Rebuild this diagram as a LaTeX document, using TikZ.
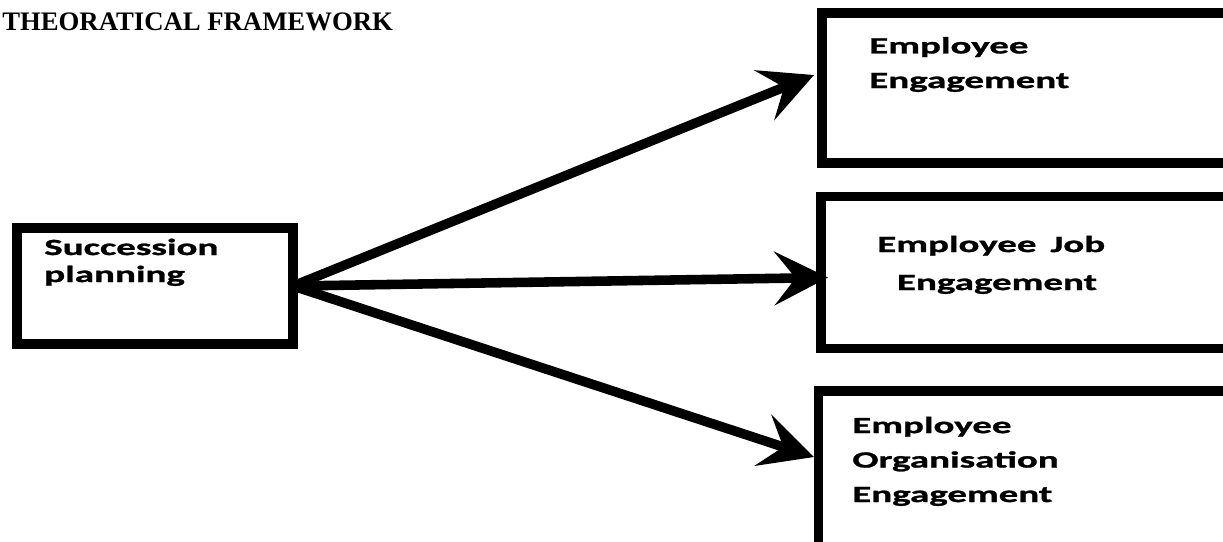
\documentclass[tikz,border=0pt]{standalone}
\usepackage{fontspec}
\setmainfont{Liberation Serif}
\newfontfamily\boxfont{Carlito}[FakeStretch=1.68, FakeBold=1.2]
\usetikzlibrary{arrows.meta, positioning}
\tikzset{
    box/.style={draw, rectangle, line width=6.6pt, inner sep=0pt, outer sep=0pt, anchor=north west},
    boxtext/.style={font=\boxfont\bfseries\fontsize{16.5pt}{24.6pt}\selectfont, align=left, anchor=base west, inner sep=0pt},
    link/.style={line width=6.8pt, -{Stealth[length=38pt, width=38pt, inset=15pt]}}
}

\begin{document}
\begin{tikzpicture}[x=0.025cm, y=-0.025cm]
    \useasboundingbox (0,0) rectangle (1223,541);
    \clip (0,0) rectangle (1223,541);

    \node[anchor=base west, inner sep=0pt, font=\bfseries\fontsize{19pt}{22pt}\selectfont] (title) at (2,30) {THEORATICAL FRAMEWORK};

    \node[box, minimum width=6.9cm, minimum height=2.9cm] (sp) at (17,228) {};
    \node[box, minimum width=10.4cm, minimum height=3.75cm] (ee) at (822,13) {};
    \node[box, minimum width=10.4cm, minimum height=3.8cm] (eje) at (821,196.5) {};
    \node[box, minimum width=10.5cm, minimum height=4cm] (eoe) at (818.5,391) {};

    \node[boxtext, font=\boxfont\bfseries\fontsize{16.5pt}{19.2pt}\selectfont] (sptext) at (44,282) {Succession\\planning};
    \node[boxtext] (eetext) at (869,88) {Employee\\Engagement};
    \node[boxtext, font=\boxfont\bfseries\fontsize{16.5pt}{27pt}\selectfont] (ejetext) at (877,290) {Employee\hspace{0.6em}Job\\\hspace*{14pt}Engagement};
    \node[boxtext, font=\boxfont\bfseries\fontsize{16.5pt}{24.5pt}\selectfont] (eoetext) at (852,502) {Employee\\Organisation\\Engagement};

    \draw[link] (sp.east) -- ([shift={(-8,-13)}]ee.west);
    \draw[link] (sp.east) -- ([shift={(7,5)}]eje.west);
    \draw[link] (sp.east) -- ([shift={(-4.5,-14)}]eoe.west);
\end{tikzpicture}
\end{document}
